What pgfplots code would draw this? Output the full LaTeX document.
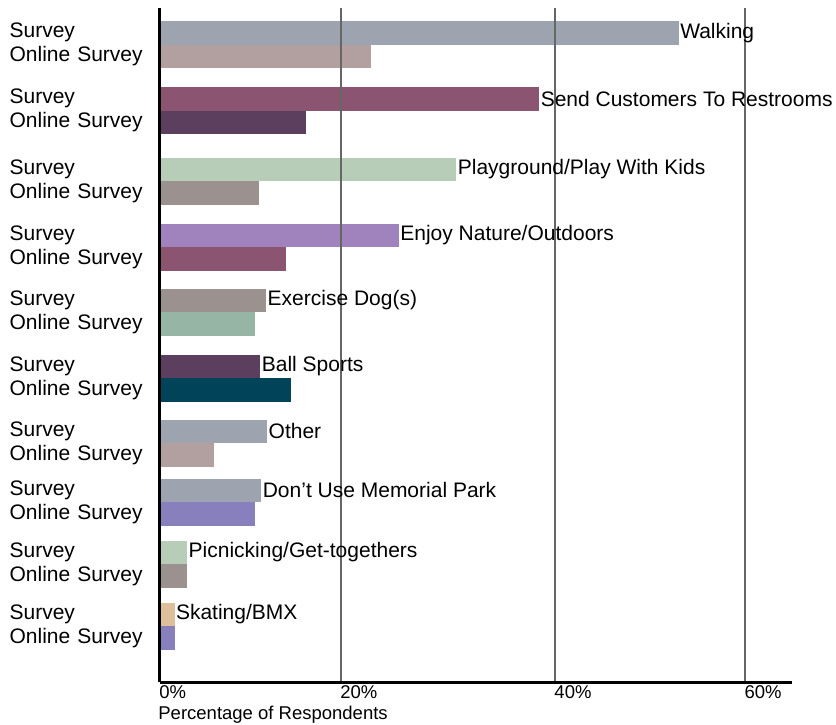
\documentclass[border=0pt]{standalone}
\usepackage{pgfplots}
\pgfplotsset{compat=1.18}
\usepackage{fontspec}
\setmainfont{Liberation Sans}

\definecolor{cgrey}{HTML}{9EA4AF}
\definecolor{crose}{HTML}{B29FA0}
\definecolor{cplum}{HTML}{8B5572}
\definecolor{cdplum}{HTML}{5C3F5E}
\definecolor{csage}{HTML}{B7CDB7}
\definecolor{ctaupe}{HTML}{9B918F}
\definecolor{clav}{HTML}{A083BD}
\definecolor{cmint}{HTML}{97B5A5}
\definecolor{cteal}{HTML}{01445A}
\definecolor{cperi}{HTML}{8780BC}
\definecolor{csand}{HTML}{DDBF9C}

% survey bar with the category name at its end
\newcommand\sbar[4]{\addplot[fill=#1, nodes near coords={#4}] coordinates {(#2,#3)};}
% online survey bar
\newcommand\obar[3]{\addplot[fill=#1] coordinates {(#2,#3)};}

\begin{document}
\begin{tikzpicture}
\begin{axis}[
  name=ax,
  width=316pt, height=337pt, scale only axis,
  xmin=0, xmax=64.8, ymin=8, ymax=682, y dir=reverse,
  axis x line=bottom, axis y line=left,
  axis line style={line width=1.5pt, -},
  axis on top, clip=false,
  xtick={0,18.56,40.51,60},
  xticklabels={0\%,20\%,40\%,60\%},
  xmajorgrids, grid style={line width=0.7pt, color=black!60},
  major tick length=0pt,
  xticklabel style={anchor=north west, xshift=-1.5pt, yshift=-0.5pt, inner sep=1pt, font=\fontsize{9.25}{10.5}\selectfont},
  ytick={32.75,56.25,98.75,122.25,169.25,192.75,235.25,258.75,300.25,323.75,366.25,389.75,431.25,454.75,490.25,513.75,552.25,575.75,614.25,637.75},
  yticklabels={Survey,Online Survey,Survey,Online Survey,Survey,Online Survey,Survey,Online Survey,Survey,Online Survey,Survey,Online Survey,Survey,Online Survey,Survey,Online Survey,Survey,Online Survey,Survey,Online Survey},
  yticklabel style={anchor=east, inner sep=0pt, text width=68pt, align=left, xshift=-7pt, font=\fontsize{10.5}{12}\selectfont},
  xlabel={Percentage of Respondents},
  xlabel style={at={(axis description cs:0,0)}, anchor=north west, xshift=-1pt, yshift=-12pt, inner sep=0pt, font=\fontsize{9.25}{10.5}\selectfont},
  every axis plot/.append style={xbar, draw=none, bar width=23.5, bar shift=0pt},
  nodes near coords style={anchor=west, inner sep=0.5pt, black, font=\fontsize{10.5}{12}\selectfont},
]
\sbar{cgrey}{53.2}{32.75}{Walking}
\obar{crose}{21.6}{56.25}
\sbar{cplum}{38.9}{98.75}{Send Customers To Restrooms}
\obar{cdplum}{15.0}{122.25}
\sbar{csage}{30.4}{169.25}{Playground/Play With Kids}
\obar{ctaupe}{10.2}{192.75}
\sbar{clav}{24.5}{235.25}{Enjoy Nature/Outdoors}
\obar{cplum}{12.9}{258.75}
\sbar{ctaupe}{10.9}{300.25}{Exercise Dog(s)}
\obar{cmint}{9.7}{323.75}
\sbar{cdplum}{10.3}{366.25}{Ball Sports}
\obar{cteal}{13.4}{389.75}
\sbar{cgrey}{11.0}{431.25}{Other}
\obar{crose}{5.5}{454.75}
\sbar{cgrey}{10.4}{490.25}{Don’t Use Memorial Park}
\obar{cperi}{9.7}{513.75}
\sbar{csage}{2.8}{552.25}{Picnicking/Get-togethers}
\obar{ctaupe}{2.8}{575.75}
\sbar{csand}{1.5}{614.25}{Skating/BMX}
\obar{cperi}{1.5}{637.75}
\end{axis}
\pgfresetboundingbox
\path (ax.south west) ++(-80pt,-21pt) rectangle ++(418pt,362pt);
\end{tikzpicture}
\end{document}
